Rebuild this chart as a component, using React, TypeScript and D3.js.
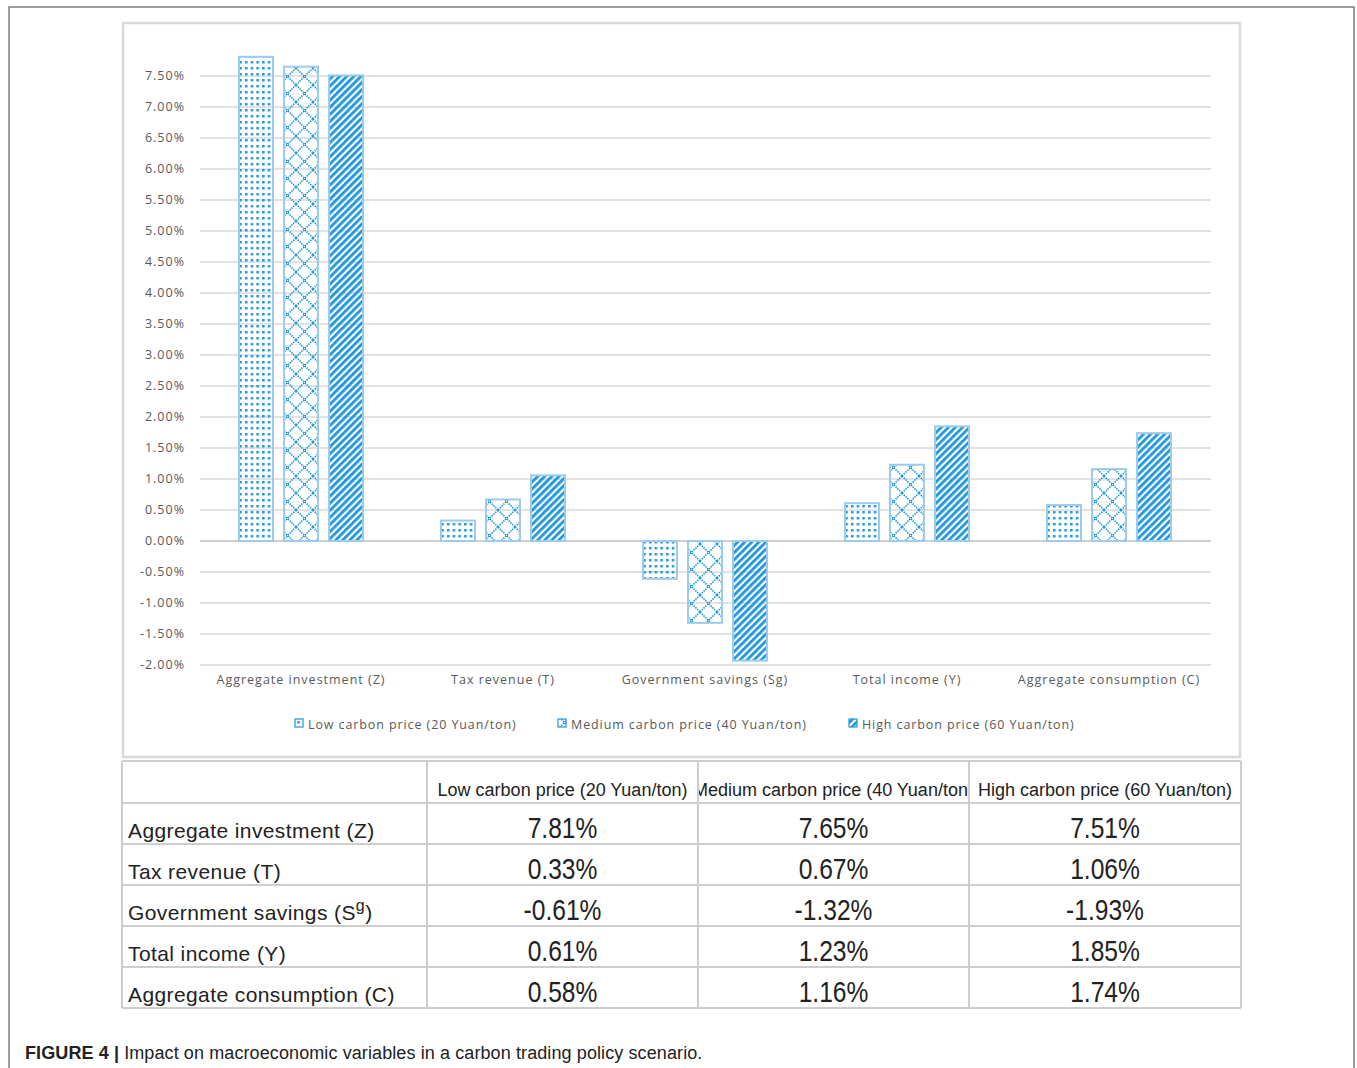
import React from 'react';
import * as d3 from 'd3';

const categories = [
  'Aggregate investment (Z)',
  'Tax revenue (T)',
  'Government savings (Sg)',
  'Total income (Y)',
  'Aggregate consumption (C)',
];
const seriesNames = [
  'Low carbon price (20 Yuan/ton)',
  'Medium carbon price (40 Yuan/ton)',
  'High carbon price (60 Yuan/ton)',
];
const lowValues = [7.81, 0.33, -0.61, 0.61, 0.58];
const mediumValues = [7.65, 0.67, -1.32, 1.23, 1.16];
const highValues = [7.51, 1.06, -1.93, 1.85, 1.74];
const yTickValues = [-2, -1.5, -1, -0.5, 0, 0.5, 1, 1.5, 2, 2.5, 3, 3.5, 4, 4.5, 5, 5.5, 6, 6.5, 7, 7.5];
const tableRowLabels = [
  'Aggregate investment (Z)',
  'Tax revenue (T)',
  'Government savings (S',
  'Total income (Y)',
  'Aggregate consumption (C)',
];

const BLUE = '#1f97dc';
const EDGE = '#9dcbeb';
const GRID = '#d9d9d9';
const TXT = '#595959';
const patternIds = ['pLow', 'pMed', 'pHigh'];

const locale = d3.formatLocale({
  decimal: '.',
  thousands: ',',
  grouping: [3],
  currency: ['', ''],
  minus: '-',
});
const fmt2 = locale.format('.2f');

export default function App() {
  const series = [lowValues, mediumValues, highValues];
  const y = d3.scaleLinear().domain([-2, 7.5]).range([665, 76]);
  const x0 = d3.scaleBand<string>().domain(categories).range([200, 1210]);
  const x1 = d3
    .scaleBand<string>()
    .domain(seriesNames)
    .range([-62, 62])
    .paddingInner(0.245);
  const fmtPct = (v: number) => fmt2(v) + '%';

  const colX = [122, 427, 698, 969, 1241];
  const rowY = [761, 803, 844, 885, 926, 967, 1008];
  const legendX = [295, 558, 849];
  const chartFont = "'Open Sans', sans-serif";
  const tableFont = "'Liberation Sans', Arial, sans-serif";

  return (
    <svg
      width={1357}
      height={1068}
      style={{ position: 'absolute', left: 0, top: 0, background: '#fff' }}
    >
      <defs>
        <pattern id="pLow" patternUnits="userSpaceOnUse" width={5.7} height={6}>
          <rect x={1} y={1} width={2.5} height={2.5} fill={BLUE} />
        </pattern>
        <pattern id="pMed" patternUnits="userSpaceOnUse" width={17} height={17} x={284} y={0}>
          <path d="M0,0 L17,17 M17,0 L0,17" stroke={BLUE} strokeWidth={1.6} strokeDasharray="1.5,1" />
        </pattern>
        <pattern
          id="pHigh"
          patternUnits="userSpaceOnUse"
          width={5}
          height={5}
          patternTransform="rotate(45)"
        >
          <rect x={0} y={0} width={2.8} height={5} fill={BLUE} />
        </pattern>
        {colX.slice(0, -1).map((cx, i) => (
          <clipPath id={`hclip${i}`} key={i}>
            <rect x={cx + 1} y={rowY[0]} width={colX[i + 1] - cx - 2} height={rowY[1] - rowY[0]} />
          </clipPath>
        ))}
      </defs>

      {/* outer frame */}
      <rect x={9} y={7} width={1345} height={1100} fill="none" stroke="#6b6b6b" strokeWidth={1.3} />

      {/* chart frame */}
      <rect x={123} y={23} width={1117} height={734} fill="#fff" stroke={GRID} strokeWidth={2.5} />

      {/* gridlines */}
      {yTickValues.map((t) => (
        <g key={t}>
          <line
            x1={200}
            x2={1211}
            y1={y(t)}
            y2={y(t)}
            stroke={t === 0 ? '#cfcfcf' : GRID}
            strokeWidth={t === 0 ? 2.2 : 1.4}
          />
          <text
            x={185}
            y={y(t)}
            dy="0.35em"
            textAnchor="end"
            fontFamily={chartFont}
            fontSize={12.5}
            letterSpacing={1}
            fill={TXT}
          >
            {fmtPct(t)}
          </text>
        </g>
      ))}

      {/* bars */}
      {categories.map((c, ci) => (
        <g key={c} transform={`translate(${(x0(c) ?? 0) + x0.bandwidth() / 2},0)`}>
          {seriesNames.map((s, si) => {
            const v = series[si][ci];
            const top = y(Math.max(0, v));
            const h = Math.abs(y(v) - y(0));
            return (
              <rect
                key={s}
                x={x1(s)}
                y={top}
                width={x1.bandwidth()}
                height={h}
                fill={`url(#${patternIds[si]})`}
                stroke={EDGE}
                strokeWidth={2}
              />
            );
          })}
          <text
            x={0}
            y={684}
            textAnchor="middle"
            fontFamily={chartFont}
            fontSize={12.5}
            letterSpacing={1}
            fill={TXT}
          >
            {c}
          </text>
        </g>
      ))}

      {/* legend */}
      {seriesNames.map((s, si) => (
        <g key={s}>
          <rect
            x={legendX[si]}
            y={719}
            width={8}
            height={8}
            fill={`url(#${patternIds[si]})`}
            stroke={BLUE}
            strokeWidth={1.2}
          />
          <text
            x={legendX[si] + 13}
            y={729}
            fontFamily={chartFont}
            fontSize={12.5}
            letterSpacing={0.9}
            fill={TXT}
          >
            {s}
          </text>
        </g>
      ))}

      {/* table */}
      <g>
        {rowY.map((ry) => (
          <line key={ry} x1={122} x2={1241} y1={ry} y2={ry} stroke="#cdcdcd" strokeWidth={2} />
        ))}
        {colX.map((cx) => (
          <line key={cx} x1={cx} x2={cx} y1={rowY[0]} y2={rowY[rowY.length - 1]} stroke="#cdcdcd" strokeWidth={2} />
        ))}
        {seriesNames.map((s, si) => (
          <text
            key={s}
            clipPath={`url(#hclip${si + 1})`}
            x={(colX[si + 1] + colX[si + 2]) / 2}
            y={796}
            textAnchor="middle"
            fontFamily={tableFont}
            fontSize={18}
            fill="#222"
          >
            {s}
          </text>
        ))}
        {tableRowLabels.map((lab, ri) => (
          <text
            key={lab}
            x={128}
            y={rowY[ri + 2] - 6}
            fontFamily={tableFont}
            fontSize={21}
            letterSpacing={0.4}
            fill="#222"
          >
            {lab}
            {ri === 2 ? (
              <>
                <tspan dy={-9} fontSize={16}>g</tspan>
                <tspan dy={9}>)</tspan>
              </>
            ) : null}
          </text>
        ))}
        {series.map((vals, si) =>
          vals.map((v, ri) => {
            const cx = (colX[si + 1] + colX[si + 2]) / 2;
            const by = rowY[ri + 2] - 6;
            return (
              <text
                key={`${si}-${ri}`}
                transform={`translate(${cx},${by}) scale(0.82,1)`}
                x={0}
                y={0}
                textAnchor="middle"
                fontFamily={tableFont}
                fontSize={30}
                fill="#222"
              >
                {fmtPct(v)}
              </text>
            );
          })
        )}
      </g>

      {/* caption */}
      <text x={25} y={1059} fontFamily={tableFont} fontSize={18} letterSpacing={0.1} fill="#222">
        <tspan fontWeight="bold">FIGURE 4 | </tspan>
        <tspan>Impact on macroeconomic variables in a carbon trading policy scenario.</tspan>
      </text>
    </svg>
  );
}
